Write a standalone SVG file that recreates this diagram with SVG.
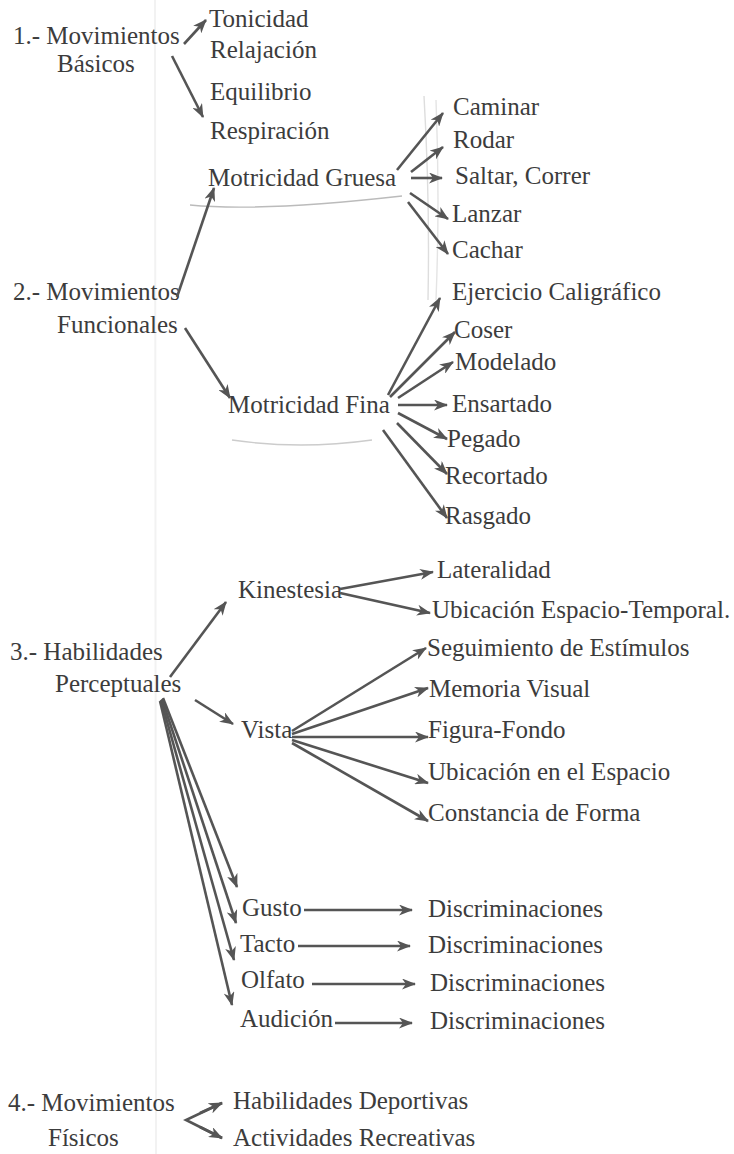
<svg xmlns="http://www.w3.org/2000/svg" width="734" height="1154" viewBox="0 0 734 1154">
<style>
text{font-family:"Liberation Serif",Tinos,"Times New Roman","DejaVu Serif",serif;font-size:25px;fill:#3c3c3c}
.c line,.c path{stroke:#555;stroke-width:2.6;fill:none;marker-end:url(#ah)}
.f{stroke:#bbb;fill:none;stroke-width:1.4}
</style>
<defs>
<marker id="ah" viewBox="0 0 14 11" refX="13" refY="5.5" markerWidth="14" markerHeight="11" markerUnits="userSpaceOnUse" orient="auto">
<path d="M0,0 L14,5.5 L0,11 L4,5.5 z" fill="#555"/>
</marker>
</defs>
<rect width="734" height="1154" fill="#fff"/>
<g id="faint">
<line x1="155" y1="0" x2="156" y2="1154" style="stroke:#f2f2f2;stroke-width:2"/>
<path class="f" d="M190,205 Q260,212 402,196"/>
<path class="f" d="M424,96 Q430,200 428,300" style="stroke:#ddd"/>
<path class="f" d="M436,100 Q440,200 436,300" style="stroke:#e4e4e4"/>
<path class="f" d="M232,440 Q300,450 372,440" style="stroke:#ccc"/>
</g>
<g id="n1"><text x="13" y="44">1.- Movimientos</text><text x="57" y="72">Básicos</text></g>
<g id="tonicidad"><text x="209" y="27">Tonicidad</text></g>
<g id="relajacion"><text x="210" y="58">Relajación</text></g>
<g id="equilibrio"><text x="210" y="100">Equilibrio</text></g>
<g id="respiracion"><text x="210" y="139">Respiración</text></g>
<g id="gruesa"><text x="208" y="186">Motricidad Gruesa</text></g>
<g id="caminar"><text x="453" y="115">Caminar</text></g>
<g id="rodar"><text x="453" y="148">Rodar</text></g>
<g id="saltar"><text x="455" y="184">Saltar, Correr</text></g>
<g id="lanzar"><text x="452" y="222">Lanzar</text></g>
<g id="cachar"><text x="452" y="258">Cachar</text></g>
<g id="n2"><text x="13" y="300">2.- Movimientos</text><text x="57" y="333">Funcionales</text></g>
<g id="caligrafico"><text x="452" y="300">Ejercicio Caligráfico</text></g>
<g id="coser"><text x="454" y="338">Coser</text></g>
<g id="modelado"><text x="455" y="370">Modelado</text></g>
<g id="fina"><text x="228" y="413">Motricidad Fina</text></g>
<g id="ensartado"><text x="452" y="412">Ensartado</text></g>
<g id="pegado"><text x="447" y="447">Pegado</text></g>
<g id="recortado"><text x="445" y="484">Recortado</text></g>
<g id="rasgado"><text x="445" y="524">Rasgado</text></g>
<g id="n3"><text x="10" y="660">3.- Habilidades</text><text x="55" y="692">Perceptuales</text></g>
<g id="kinestesia"><text x="238" y="598">Kinestesia</text></g>
<g id="lateralidad"><text x="437" y="578">Lateralidad</text></g>
<g id="ubicacion-et"><text x="432" y="618">Ubicación Espacio-Temporal.</text></g>
<g id="vista"><text x="241" y="738">Vista</text></g>
<g id="seguimiento"><text x="427" y="656">Seguimiento de Estímulos</text></g>
<g id="memoria"><text x="429" y="697">Memoria Visual</text></g>
<g id="figura"><text x="428" y="738">Figura-Fondo</text></g>
<g id="ubicacion-e"><text x="428" y="780">Ubicación en el Espacio</text></g>
<g id="constancia"><text x="428" y="821">Constancia de Forma</text></g>
<g id="gusto"><text x="242" y="916">Gusto</text></g>
<g id="tacto"><text x="240" y="952">Tacto</text></g>
<g id="olfato"><text x="241" y="988">Olfato</text></g>
<g id="audicion"><text x="240" y="1027">Audición</text></g>
<g id="d1"><text x="428" y="917">Discriminaciones</text></g>
<g id="d2"><text x="428" y="953">Discriminaciones</text></g>
<g id="d3"><text x="430" y="991">Discriminaciones</text></g>
<g id="d4"><text x="430" y="1029">Discriminaciones</text></g>
<g id="n4"><text x="8" y="1111">4.- Movimientos</text><text x="48" y="1146">Físicos</text></g>
<g id="deportivas"><text x="233" y="1109">Habilidades Deportivas</text></g>
<g id="recreativas"><text x="233" y="1146">Actividades Recreativas</text></g>
<g id="connectors" class="c">
<line x1="184" y1="44" x2="206" y2="20"/>
<line x1="172" y1="56" x2="203" y2="117"/>
<line x1="397" y1="170" x2="443" y2="113"/>
<line x1="411" y1="172" x2="443" y2="147"/>
<line x1="411" y1="178" x2="442" y2="178"/>
<line x1="410" y1="193" x2="448" y2="219"/>
<line x1="408" y1="202" x2="448" y2="254"/>
<line x1="177" y1="297" x2="214" y2="188"/>
<line x1="185" y1="328" x2="230" y2="398"/>
<line x1="388" y1="395" x2="440" y2="298"/>
<line x1="390" y1="397" x2="455" y2="332"/>
<line x1="398" y1="398" x2="453" y2="362"/>
<line x1="398" y1="405" x2="447" y2="405"/>
<line x1="398" y1="413" x2="447" y2="439"/>
<line x1="397" y1="423" x2="447" y2="474"/>
<line x1="383" y1="430" x2="447" y2="518"/>
<line x1="170" y1="677" x2="226" y2="602"/>
<line x1="195" y1="700" x2="233" y2="724"/>
<line x1="340" y1="589" x2="433" y2="572"/>
<line x1="340" y1="593" x2="430" y2="613"/>
<line x1="292" y1="731" x2="426" y2="648"/>
<line x1="292" y1="734" x2="428" y2="688"/>
<line x1="292" y1="737" x2="428" y2="737"/>
<line x1="292" y1="740" x2="428" y2="783"/>
<line x1="292" y1="743" x2="428" y2="821"/>
<line x1="163" y1="698" x2="237" y2="887"/>
<line x1="162" y1="699" x2="236" y2="923"/>
<line x1="161" y1="700" x2="234" y2="960"/>
<line x1="160" y1="701" x2="232" y2="1005"/>
<line x1="304" y1="910" x2="412" y2="910"/>
<line x1="298" y1="946" x2="410" y2="946"/>
<line x1="312" y1="984" x2="415" y2="984"/>
<line x1="335" y1="1023" x2="412" y2="1023"/>
<path d="M222,1103 L186,1120 L222,1138" style="marker-end:none"/>
<line x1="200" y1="1113" x2="222" y2="1103"/>
<line x1="200" y1="1127" x2="222" y2="1138"/>
</g>
</svg>
